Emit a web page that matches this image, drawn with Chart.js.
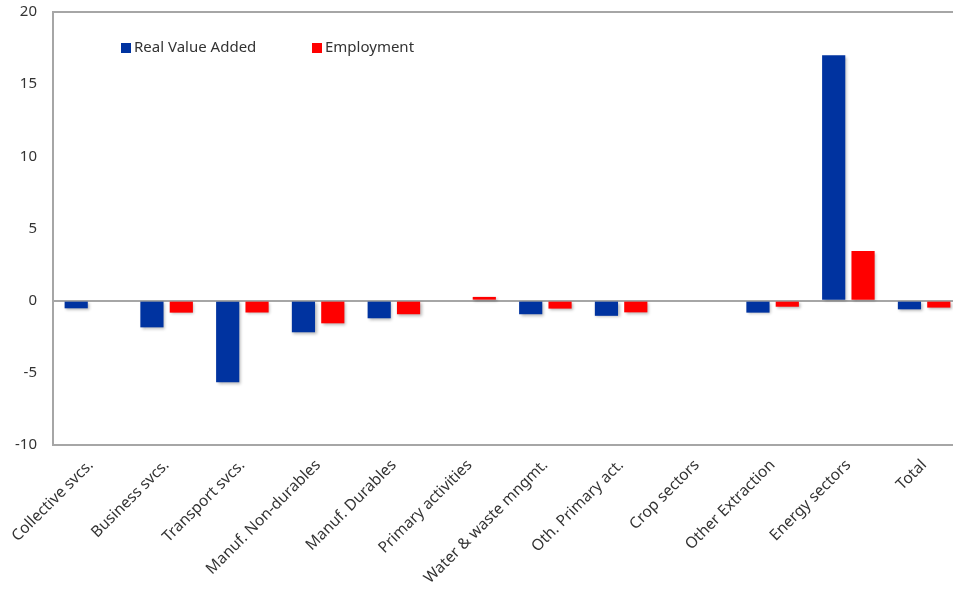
<!DOCTYPE html>
<html>
<head>
<meta charset="utf-8">
<script src="https://cdn.jsdelivr.net/npm/chart.js@4/dist/chart.umd.min.js"></script>
<style>
  html, body { margin: 0; padding: 0; background: #fff; overflow: hidden; }
  #wrap { width: 953px; height: 598px; overflow: hidden; }
</style>
</head>
<body>
<div id="wrap"><canvas id="c" width="962" height="598"></canvas></div>
<script>
// Sector categories along the x axis
const sectors = [
  'Collective svcs.', 'Business svcs.', 'Transport svcs.', 'Manuf. Non-durables',
  'Manuf. Durables', 'Primary activities', 'Water & waste mngmt.', 'Oth. Primary act.',
  'Crop sectors', 'Other Extraction', 'Energy sectors', 'Total'
];
// Percentage changes by sector
const realValueAdded = [-0.53, -1.85, -5.65, -2.19, -1.22, 0, -0.94, -1.05, 0, -0.83, 17.0, -0.6];
const employment     = [0, -0.83, -0.82, -1.57, -0.94, 0.26, -0.55, -0.81, 0, -0.42, 3.44, -0.48];
// Value axis ticks
const yTicks = [-10, -5, 0, 5, 10, 15, 20];

const FONT = '"Noto Sans", "Open Sans", sans-serif';
const AXIS_GREY = '#A6A6A6';

// Soft drop shadow under the bars
const barShadow = {
  id: 'barShadow',
  beforeDatasetsDraw(chart) {
    const ctx = chart.ctx;
    ctx.save();
    ctx.shadowColor = 'rgba(0,0,0,0.28)';
    ctx.shadowBlur = 3;
    ctx.shadowOffsetX = 1.5;
    ctx.shadowOffsetY = 1.5;
  },
  afterDatasetsDraw(chart) {
    chart.ctx.restore();
  }
};

// Frame around the plot area
const plotFrame = {
  id: 'plotFrame',
  afterDraw(chart) {
    const { ctx, chartArea: a } = chart;
    ctx.save();
    ctx.strokeStyle = AXIS_GREY;
    ctx.lineWidth = 2;
    ctx.strokeRect(a.left, a.top, a.right - a.left, a.bottom - a.top);
    ctx.restore();
  }
};

// Legend drawn inside the plot area
const innerLegend = {
  id: 'innerLegend',
  afterDraw(chart) {
    const ctx = chart.ctx;
    const xs = [121, 312];
    const y = 48;
    ctx.save();
    ctx.font = '15px ' + FONT;
    ctx.textBaseline = 'middle';
    chart.data.datasets.forEach((ds, i) => {
      ctx.fillStyle = ds.backgroundColor;
      ctx.fillRect(xs[i], y - 5, 10, 10);
      ctx.fillStyle = '#333333';
      ctx.fillText(ds.label, xs[i] + 13, y);
    });
    ctx.restore();
  }
};

new Chart(document.getElementById('c'), {
  type: 'bar',
  data: {
    labels: sectors,
    datasets: [
      { label: 'Real Value Added', data: realValueAdded, backgroundColor: '#0033A0' },
      { label: 'Employment', data: employment, backgroundColor: '#FF0000' }
    ]
  },
  options: {
    responsive: false,
    animation: false,
    devicePixelRatio: 1,
    categoryPercentage: 0.775,
    barPercentage: 0.79,
    layout: { padding: { top: 12, right: 0, left: 0, bottom: 0 } },
    plugins: {
      legend: { display: false },
      tooltip: { enabled: false }
    },
    scales: {
      x: {
        grid: { display: false, drawTicks: false },
        border: { display: false },
        ticks: {
          minRotation: 45,
          maxRotation: 45,
          padding: 11,
          color: '#333333',
          font: { family: FONT, size: 15.5 }
        },
        afterFit(scale) { scale.height = 153; }
      },
      y: {
        min: -10,
        max: 20,
        afterBuildTicks(scale) { scale.ticks = yTicks.map(v => ({ value: v })); },
        grid: {
          drawTicks: false,
          lineWidth: 2,
          color: (c) => (c.tick && c.tick.value === 0 ? AXIS_GREY : 'rgba(0,0,0,0)')
        },
        border: { display: false },
        ticks: {
          padding: 16,
          color: '#333333',
          font: { family: FONT, size: 15 }
        },
        afterFit(scale) {
          scale.width = 53;
          scale.paddingTop = 0;
          scale.paddingBottom = 0;
        }
      }
    }
  },
  plugins: [barShadow, plotFrame, innerLegend]
});
</script>
</body>
</html>
